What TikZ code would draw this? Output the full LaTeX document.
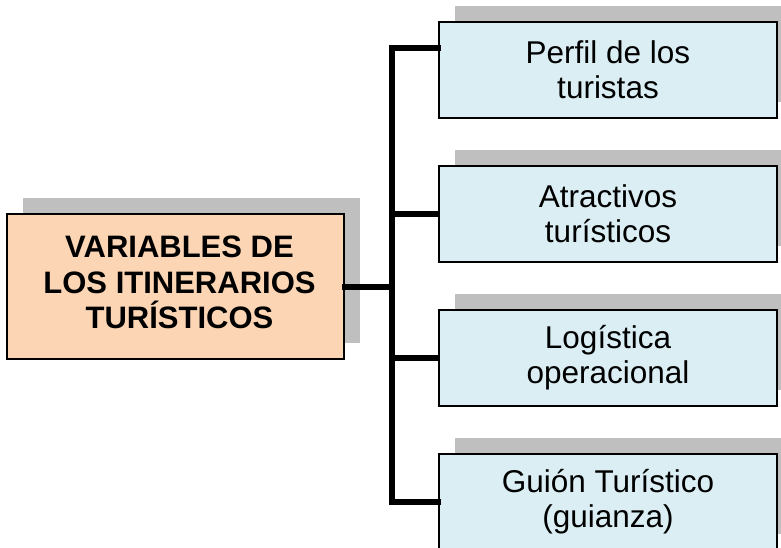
\documentclass[tikz,border=0pt]{standalone}
\usepackage{fontspec}
\setmainfont{Liberation Sans}
\usetikzlibrary{calc}
\definecolor{peach}{RGB}{251,213,180}
\definecolor{lblue}{RGB}{218,238,243}
\definecolor{shadowc}{RGB}{191,191,191}
\begin{document}
\begin{tikzpicture}[x=1pt,y=1pt,
  mainbox/.style={draw=black,line width=1.5pt,fill=peach,minimum width=337pt,minimum height=145pt,inner sep=0pt},
  maintext/.style={inner sep=0pt,align=center,font=\fontsize{31}{35.5}\selectfont\bfseries},
  subbox/.style={draw=black,line width=1.5pt,fill=lblue,minimum width=338pt,minimum height=96pt,inner sep=0pt,align=center,font=\fontsize{31.5}{35}\selectfont},
  conn/.style={line width=6pt,line cap=rect,draw=black}]
\useasboundingbox (0,0) rectangle (781,-547);
\clip (0,0) rectangle (781,-547);
% shadows
\fill[shadowc] (23,-198) rectangle (360,-343);
\foreach \c in {70,214,358,502}{
  \fill[shadowc] (455,{-(\c-48)+16}) rectangle (794,{-(\c+48)+16});
}
\node[mainbox] (main) at (175.5,-286.5) {};
\node[maintext] (mainlabel) at ($(main.center)+(4,4)$) {VARIABLES DE\\LOS ITINERARIOS\\TURÍSTICOS};
\node[subbox] (b1) at (608,-70) {Perfil de los\\turistas};
\node[subbox] (b2) at (608,-214) {Atractivos\\turísticos};
\node[subbox] (b3) at (608,-358) {Logística\\operacional};
\node[subbox] (b4) at (608,-502) {Guión Turístico\\(guianza)};
\coordinate (j) at (392,-286.5);
\coordinate (t) at (392,-48);
\draw[conn] (main.east) -- (j);
\draw[conn] (t -| b1.west) -- (t) -- (t |- b4.west) -- (b4.west);
\draw[conn,line cap=butt] (b2.west) -- (b2.west -| t);
\draw[conn,line cap=butt] (b3.west) -- (b3.west -| t);
\end{tikzpicture}
\end{document}
